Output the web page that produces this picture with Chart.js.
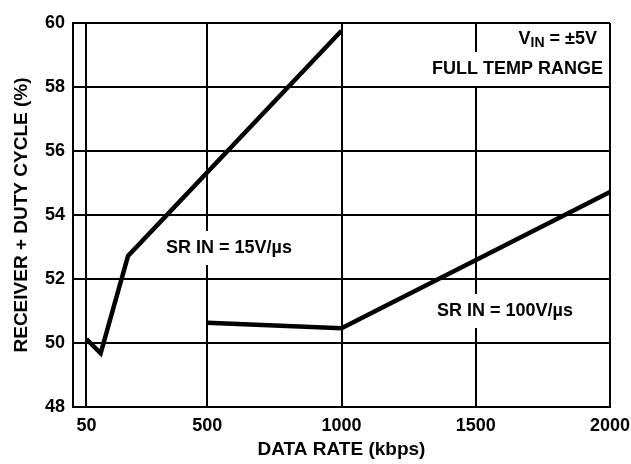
<!DOCTYPE html>
<html><head><meta charset="utf-8">
<script src="https://cdn.jsdelivr.net/npm/chart.js@4/dist/chart.umd.min.js"></script>
<style>html,body{margin:0;padding:0;background:#fff}</style>
</head><body>
<canvas id="c" width="631" height="464"></canvas>
<script>
// ---- data ----
const sr15X = [50, 103, 205, 1000];
const sr15Y = [50.12, 49.68, 52.72, 59.76];
const sr100X = [500, 1000, 2000];
const sr100Y = [50.63, 50.46, 54.72];
const xTicks = [50, 500, 1000, 1500, 2000];
const yTicks = [48, 50, 52, 54, 56, 58, 60];
const xTitle = 'DATA RATE (kbps)';
const yTitle = 'RECEIVER + DUTY CYCLE (%)';
const label15 = 'SR IN = 15V/\u00B5s';
const label100 = 'SR IN = 100V/\u00B5s';
const noteLine2 = 'FULL TEMP RANGE';

const FAMILY = "'Liberation Sans', Arial, Helvetica, sans-serif";
const FS = 18;
const font = {family: FAMILY, size: FS, weight: 'bold'};
const titleFont = {family: FAMILY, size: 19, weight: 'bold'};

const labelsPlugin = {
  id: 'labels',
  beforeDatasetsDraw(chart) {
    const c = chart.ctx;
    c.save();
    const big = `bold ${FS}px ${FAMILY}`;
    const small = `bold ${Math.round(FS * 0.8)}px ${FAMILY}`;
    c.font = big;
    c.textBaseline = 'middle';
    function box(left, y, w, top) {
      c.fillStyle = '#fff';
      const t = Math.max(y - 17, top || 0);
      c.fillRect(left - 5, t, w + 10, y + 17 - t);
    }
    function boxText(t, x, y, align) {
      c.font = big;
      const w = c.measureText(t).width;
      const left = align === 'right' ? x - w : (align === 'center' ? x - w / 2 : x);
      box(left, y, w);
      c.fillStyle = '#000';
      c.textAlign = 'left';
      c.fillText(t, left, y);
    }
    boxText(label15, 229, 248, 'center');
    boxText(label100, 505, 311, 'center');
    // V_IN = ±5V
    c.font = big; const wV = c.measureText('V').width;
    c.font = small; const wIN = c.measureText('IN').width;
    c.font = big; const wRest = c.measureText(' = \u00B15V').width;
    const total = wV + wIN + wRest;
    const right = 597, y1 = 39;
    box(right - total, y1, total, chart.chartArea.top + 2);
    c.fillStyle = '#000';
    c.textAlign = 'left';
    let x = right - total;
    c.font = big; c.fillText('V', x, y1); x += wV;
    c.font = small; c.fillText('IN', x, y1 + 4); x += wIN;
    c.font = big; c.fillText(' = \u00B15V', x, y1);
    boxText(noteLine2, 603, 69, 'right');
    c.restore();
  }
};

new Chart(document.getElementById('c'), {
  type: 'line',
  data: {
    datasets: [
      {data: sr15X.map((x, i) => ({x, y: sr15Y[i]}))},
      {data: sr100X.map((x, i) => ({x, y: sr100Y[i]}))}
    ]
  },
  options: {
    responsive: false,
    animation: false,
    layout: {padding: {top: 23, right: 21, left: 0, bottom: 0}},
    elements: {
      line: {borderColor: '#000', borderWidth: 4.5, tension: 0, borderCapStyle: 'butt', borderJoinStyle: 'miter', fill: false},
      point: {radius: 0, hoverRadius: 0}
    },
    plugins: {legend: {display: false}, tooltip: {enabled: false}},
    scales: {
      x: {
        type: 'linear', min: 0, max: 2000,
        afterBuildTicks: s => { s.ticks = xTicks.map(v => ({value: v})); },
        afterFit: s => { s.height = 57; s.paddingLeft = 0; s.paddingRight = 0; },
        grid: {color: '#000', lineWidth: 2, drawTicks: false},
        border: {color: '#000', width: 2},
        ticks: {color: '#000', font, padding: 8, autoSkip: false, maxRotation: 0,
                callback: v => String(v)},
        title: {display: true, text: xTitle, color: '#000', font: titleFont, padding: {top: 0, bottom: 3}}
      },
      y: {
        type: 'linear', min: 48, max: 60,
        afterBuildTicks: s => { s.ticks = yTicks.map(v => ({value: v})); },
        afterFit: s => { s.width = 73; s.paddingTop = 0; s.paddingBottom = 0; },
        grid: {color: '#000', lineWidth: 2, drawTicks: false},
        border: {color: '#000', width: 2},
        ticks: {color: '#000', font, padding: 8, callback: v => String(v)},
        title: {display: true, text: yTitle, color: '#000', font: titleFont, padding: {top: 10, bottom: 10}}
      }
    }
  },
  plugins: [labelsPlugin]
});
</script>
</body></html>
